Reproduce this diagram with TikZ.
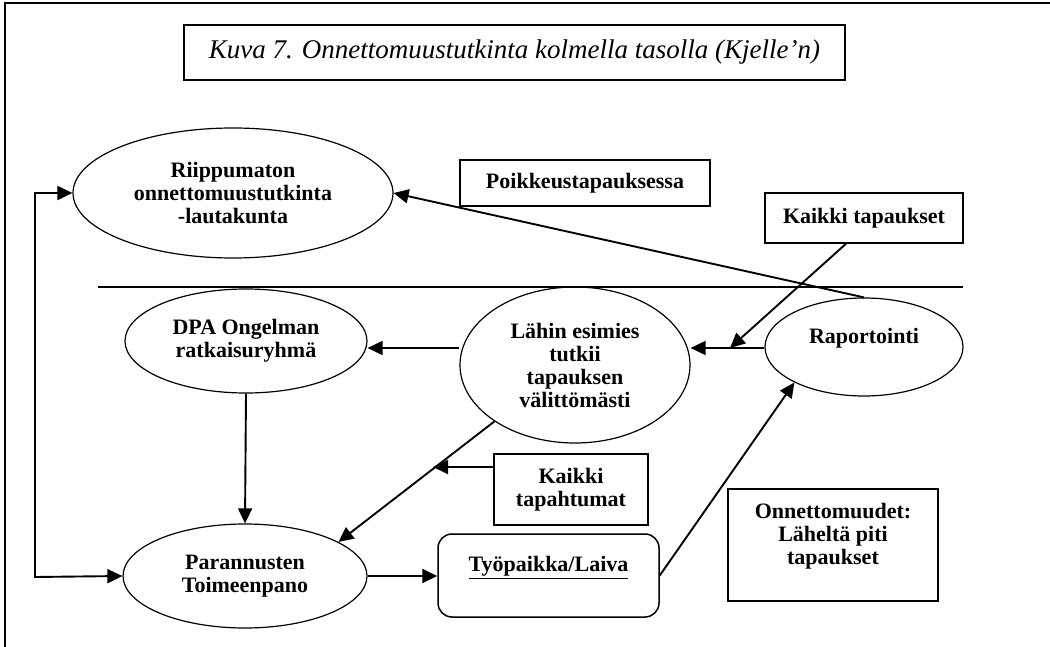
\documentclass[tikz,border=0pt]{standalone}
\usepackage{fontspec}
\setmainfont{Liberation Serif}
\usetikzlibrary{shapes.geometric,arrows.meta,calc}
\begin{document}
\begin{tikzpicture}[x=1pt,y=-1pt,
  ell/.style={ellipse, draw, line width=1.2pt, inner sep=0pt, align=center,
    font=\bfseries\fontsize{22}{23}\selectfont},
  box/.style={rectangle, draw, line width=1.5pt, inner sep=0pt, align=center,
    font=\bfseries\fontsize{22}{23}\selectfont},
  arr/.style={line width=1.9pt, -{Triangle[length=15pt,width=14pt]}},
  darr/.style={line width=1.9pt, {Triangle[length=15pt,width=14pt]}-{Triangle[length=15pt,width=14pt]}}]
\useasboundingbox (0,0) rectangle (1050,647);
% frame
\draw[line width=1.5pt] (5,647) -- (5,3) -- (1050,3);
% title
\node[draw, line width=1.5pt, minimum width=661pt, minimum height=55pt, inner sep=0pt,
  font=\itshape\fontsize{27}{30}\selectfont] (title) at (514.5,52.5)
  {Kuva 7. Onnettomuustutkinta kolmella tasolla (Kjelle'n)};
% separator
\draw[line width=1.2pt] (98,287) -- (963,287);
% ellipses
\node[ell, minimum width=320pt, minimum height=130pt] (riip) at (233,193)
  {Riippumaton\\onnettomuustutkinta\\-lautakunta};
\node[ell, minimum width=242pt, minimum height=104pt] (dpa) at (246,341)
  {DPA Ongelman\\ratkaisuryhmä};
\node[ell, minimum width=230pt, minimum height=156pt] (lahin) at (575,365)
  {Lähin esimies\\tutkii\\tapauksen\\välittömästi};
\node[ell, minimum width=198pt, minimum height=98pt] (rap) at (864,347)
  {Raportointi\\\mbox{}};
\node[ell, minimum width=244pt, minimum height=104pt] (par) at (245,576)
  {Parannusten\\Toimeenpano};
% boxes
\node[box, minimum width=250pt, minimum height=46pt] (poik) at (585,183)
  {Poikkeustapauksessa};
\node[box, minimum width=198pt, minimum height=50pt] (kt) at (864,218)
  {Kaikki tapaukset};
\node[box, minimum width=154pt, minimum height=71pt] (ktap) at (571,489.5)
  {Kaikki\\tapahtumat};
\node[box, rounded corners=14pt, minimum width=221pt, minimum height=83pt] (typ) at (548.5,575.5)
  {\underline{Työpaikka/Laiva}\\\mbox{}};
\node[box, minimum width=210pt, minimum height=112pt] (onn) at (833,545)
  {Onnettomuudet:\\Läheltä piti\\tapaukset\\\mbox{}};
% helper coordinates
\coordinate (lt) at (35,193);
\coordinate (lb) at (35,577);
\coordinate (h1) at (0,348);
\coordinate (m1) at (730,348);
\coordinate (m2) at (433,467);
% connectors
\draw[darr] (riip.west) -- (lt) -- (lb) -- (par.west);
\draw[arr] (rap.north) -- (riip.east);
\draw[line width=1.9pt] (rap.west |- h1) -- (m1);
\draw[arr] (m1) -- (lahin.east |- h1);
\draw[arr] ($(kt.south)+(-18,0)$) -- (m1);
\draw[arr] (lahin.west |- h1) -- (dpa.east |- h1);
\draw[arr] (dpa.south) -- (par.north);
\draw[arr] (lahin.215) -- (par.20);
\draw[arr] (ktap.west |- m2) -- (m2);
\draw[arr] (par.east) -- (typ.west |- par.east);
\draw[arr] (typ.east) -- (rap.207);
\end{tikzpicture}
\end{document}
